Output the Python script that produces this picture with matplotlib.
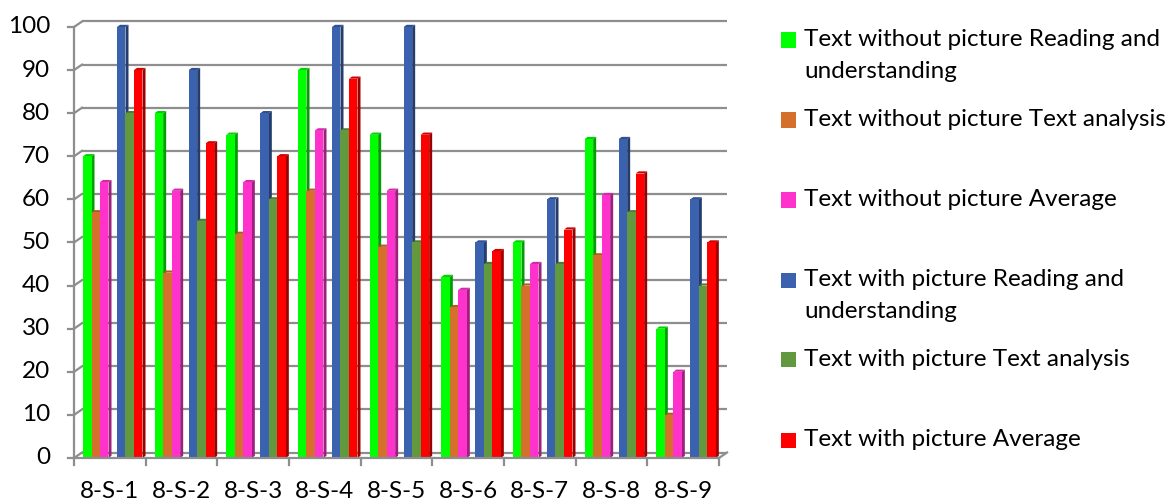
import matplotlib
matplotlib.use("Agg")
import matplotlib.pyplot as plt
from matplotlib.patches import Polygon, Rectangle
import numpy as np

# ---- data -------------------------------------------------------------
categories = ["8-S-1", "8-S-2", "8-S-3", "8-S-4", "8-S-5",
              "8-S-6", "8-S-7", "8-S-8", "8-S-9"]

wo_reading = [70, 80, 75, 90, 75, 42, 50, 74, 30]
wo_analysis = [57, 43, 52, 62, 49, 35, 40, 47, 10]
wo_average = [64, 62, 64, 76, 62, 39, 45, 61, 20]
w_reading = [100, 90, 80, 100, 100, 50, 60, 74, 60]
w_analysis = [80, 55, 60, 76, 50, 45, 45, 57, 40]
w_average = [90, 73, 70, 88, 75, 48, 53, 66, 50]

series_labels = [
    "Text without picture Reading and\nunderstanding",
    "Text without picture Text analysis",
    "Text without picture Average",
    "Text with picture Reading and\nunderstanding",
    "Text with picture Text analysis",
    "Text with picture Average",
]
series_colors = ["#00FF00", "#D4702C", "#FF33CC", "#3A62AE", "#62993E", "#FF0000"]
y_ticks = list(range(0, 101, 10))

series = [wo_reading, wo_analysis, wo_average, w_reading, w_analysis, w_average]

# ---- figure -----------------------------------------------------------
W, H = 1168, 503
plt.rcParams["font.family"] = ["Lato", "DejaVu Sans"]
fig = plt.figure(figsize=(W / 100, H / 100), dpi=100)
fig.patch.set_facecolor("white")

x0, x1 = 74, 719          # front floor edge, pixels
yb, yt = 458, 27          # front value 0 and 100, pixels from top
ax = fig.add_axes([x0 / W, (H - yb) / H, (x1 - x0) / W, (yb - yt) / H])
ax.set_xlim(0, len(categories))
ax.set_ylim(0, 100)
ax.axis("off")

sx = (x1 - x0) / len(categories)   # pixels per category
sy = (yb - yt) / 100.0             # pixels per value unit

def px(dx, dy):
    return dx / sx, dy / sy

grid_c = "#8E8E8E"
lw = 1.6
BX, BY = px(8, 5.5)               # back-wall offset

# back wall gridlines and side-wall diagonals
for v in y_ticks:
    ax.plot([BX, len(categories) + BX], [v + BY, v + BY], color=grid_c,
            lw=lw, clip_on=False, solid_capstyle="butt", zorder=1)
    ax.plot([0, BX], [v, v + BY], color=grid_c, lw=lw, clip_on=False, zorder=1)
    tx, _ = px(6, 0)
    ax.plot([-tx, 0], [v, v], color=grid_c, lw=lw, clip_on=False, zorder=1)

# front value axis, floor edges
ax.plot([0, 0], [0, 100], color=grid_c, lw=lw, clip_on=False, zorder=1)
ax.plot([0, len(categories)], [0, 0], color=grid_c, lw=lw, clip_on=False, zorder=5)
ax.plot([len(categories), len(categories) + BX], [0, BY], color=grid_c, lw=lw,
        clip_on=False, zorder=5)
_, ty = px(0, 7)
for i in range(len(categories) + 1):
    ax.plot([i, i], [0, -ty], color=grid_c, lw=lw, clip_on=False, zorder=5)

# ---- 3D-looking bars --------------------------------------------------
def shade(c, f):
    r, g, b = matplotlib.colors.to_rgb(c)
    return (r * f, g * f, b * f)

bw = 8.5 / sx
start = 9 / sx
DX, DY = px(3, 2.2)
slots = [0, 1, 2, 4, 5, 6]
for i in range(len(categories)):
    for s, (vals, col) in enumerate(zip(series, series_colors)):
        v = vals[i]
        xl = i + start + slots[s] * bw
        xr = xl + bw
        z = 2 + s * 0.1
        side = Polygon([(xr, 0), (xr + DX, DY), (xr + DX, v + DY), (xr, v)],
                       closed=True, fc=shade(col, 0.62), ec="none",
                       clip_on=False, zorder=z)
        top = Polygon([(xl, v), (xl + DX, v + DY), (xr + DX, v + DY), (xr, v)],
                      closed=True, fc=shade(col, 0.82), ec="none",
                      clip_on=False, zorder=z)
        front = Rectangle((xl, 0), bw, v, fc=col, ec="none",
                          clip_on=False, zorder=z + 0.05)
        ax.add_patch(side)
        ax.add_patch(top)
        ax.add_patch(front)

# ---- tick labels ------------------------------------------------------
fs = 17.5
lx, _ = px(24, 0)
for v in y_ticks:
    ax.text(-lx, v, str(v), ha="right", va="center", fontsize=fs,
            color="#000000", clip_on=False)
_, ly = px(0, 33)
for i, c in enumerate(categories):
    ax.text(i + 0.5, -ly, c, ha="center", va="center", fontsize=fs,
            color="#000000", clip_on=False)

# ---- legend -----------------------------------------------------------
leg_y = [40, 120, 200, 280, 359, 440]
line_gap = 31
for lab, col, yc in zip(series_labels, series_colors, leg_y):
    fig.patches.append(Rectangle(((781) / W, (H - yc - 7.5) / H), 15 / W, 15 / H,
                                 transform=fig.transFigure, fc=col, ec="none"))
    for k, line in enumerate(lab.split("\n")):
        fig.text(804 / W, (H - yc - k * line_gap) / H, line, ha="left",
                 va="center", fontsize=fs, color="#000000")

fig.savefig("out.png", dpi=100, facecolor="white")
